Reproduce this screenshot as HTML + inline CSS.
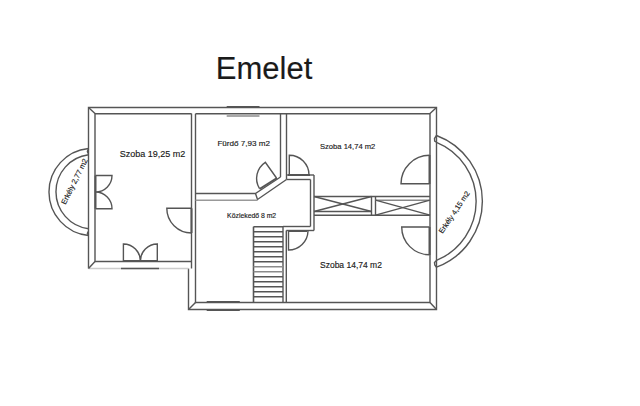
<!DOCTYPE html>
<html><head><meta charset="utf-8">
<style>
html,body{margin:0;padding:0;background:#fff;width:640px;height:406px;overflow:hidden}
svg{display:block}
text{font-family:"Liberation Sans",sans-serif;fill:#1a1a1a;stroke:#1a1a1a;stroke-width:0.15px}
</style></head>
<body>
<svg width="640" height="406" viewBox="0 0 640 406">
<rect x="0" y="0" width="640" height="406" fill="#fff"/>
<text x="215.8" y="79" font-size="31">Emelet</text>

<defs><filter id="bl" x="-5%" y="-5%" width="110%" height="110%"><feGaussianBlur stdDeviation="0.65"/></filter></defs>
<g fill="none" stroke="#555" stroke-width="1.4" filter="url(#bl)">
<!-- outer walls -->
<path d="M88.5 268.5 V107.5 H436.5 V309.5 H188.5 V268.5"/>
<line x1="88.5" y1="268.5" x2="188.5" y2="268.5" stroke="#ccc"/>
<line x1="121" y1="268.5" x2="159" y2="268.5"/>
<!-- inner of left room -->
<path d="M191.5 113.8 H95 V261.5 H191.5"/>
<line x1="191.5" y1="113.5" x2="191.5" y2="268.5"/>
<path d="M195.5 113.8 V302.5 H430 V113.8 H195.5"/>
<!-- corner diagonals -->
<line x1="88.5" y1="107.5" x2="95" y2="113.5"/>
<line x1="436.5" y1="107.5" x2="430" y2="113.5"/>
<line x1="436.5" y1="309.5" x2="430" y2="302.5"/>
<line x1="188.5" y1="309.5" x2="195.5" y2="302.5"/>
<line x1="88.5" y1="268.5" x2="95" y2="261.5"/>

<!-- bathroom / right room wall -->
<line x1="280.5" y1="113.5" x2="280.5" y2="177"/>
<line x1="286.5" y1="113.5" x2="286.5" y2="179.5"/>
<!-- diagonal wall -->
<path d="M280.5 177 L255.5 193.5 L257.5 199.5 L286.5 179.5"/>
<!-- hall top wall -->
<line x1="195.5" y1="193.5" x2="255.5" y2="193.5"/>
<line x1="195.5" y1="200.3" x2="257.5" y2="200.3" stroke="#999"/>

<!-- hall top door frame -->
<line x1="287" y1="175" x2="314" y2="175"/>
<line x1="286.5" y1="179.5" x2="310.5" y2="179.5"/>
<line x1="310.5" y1="179.5" x2="310.5" y2="226.5"/>
<line x1="314" y1="175" x2="314" y2="230.5"/>
<line x1="283" y1="226.5" x2="310.5" y2="226.5"/>
<line x1="286.3" y1="230.5" x2="314" y2="230.5"/>
<line x1="283" y1="226.5" x2="283" y2="302.5"/>
<line x1="286.3" y1="230.5" x2="286.3" y2="302.5"/>

<!-- wardrobe -->
<line x1="314" y1="196.5" x2="430" y2="196.5"/>
<line x1="314" y1="211.5" x2="371.5" y2="211.5"/>
<line x1="314" y1="215.2" x2="430" y2="215.2"/>
<line x1="314" y1="196.5" x2="371.5" y2="211.5"/>
<line x1="314" y1="211.5" x2="371.5" y2="196.5"/>
<line x1="371.5" y1="196.5" x2="371.5" y2="215.2"/>
<line x1="375.5" y1="196.5" x2="375.5" y2="215.2"/>
<line x1="375.5" y1="200.2" x2="430" y2="200.2" stroke="#888"/>
<line x1="375.5" y1="200.2" x2="430" y2="215.2"/>
<line x1="375.5" y1="215.2" x2="430" y2="200.2"/>

<!-- stairs -->
<line x1="253.5" y1="226.7" x2="253.5" y2="302" stroke-width="1.6"/>
<path d="M253.5 226.7H283 M253.5 231.7H283 M253.5 236.7H283 M253.5 241.7H283 M253.5 246.7H283 M253.5 251.7H283 M253.5 256.7H283 M253.5 261.7H283 M253.5 276.7H283 M253.5 281.7H283 M253.5 286.7H283 M253.5 291.7H283 M253.5 296.7H283"/>

<path d="M253.5 266.7H283 M253.5 271.7H283" stroke="#8a8a8a"/>
<!-- doors -->
<!-- left room left french door -->
<path d="M95.5 175.5 H112 A16.5 16.5 0 0 1 95.5 192 A16.5 16.5 0 0 1 112 208.7 H95.5"/>
<line x1="95.5" y1="175.5" x2="95.5" y2="208.7" stroke-width="2"/>
<!-- left room bottom french door -->
<path d="M123.4 261 V244 A17 17 0 0 1 140.4 261 A17 17 0 0 1 157.3 244 V261"/>
<line x1="123" y1="261" x2="157.5" y2="261" stroke-width="2"/>
<!-- left room right door -->
<path d="M191.5 208.3 H166.8 A24.7 24.7 0 0 0 191.5 233"/>
<line x1="191.5" y1="208.3" x2="191.5" y2="233" stroke-width="2"/>
<!-- bathroom door -->
<path d="M276.5 178 L265.3 162.3 A19.3 19.3 0 0 0 259.4 188.4"/>
<line x1="259.5" y1="189" x2="277" y2="178" stroke-width="2"/>
<!-- upper right room door from hall -->
<path d="M289.3 175 V155.3 A19.7 19.7 0 0 1 309 175"/>
<line x1="288" y1="175" x2="310" y2="175" stroke-width="2"/>
<!-- upper right balcony door -->
<path d="M429.5 183.8 H401 A28.5 28.5 0 0 1 429.5 155.3"/>
<line x1="429.5" y1="155" x2="429.5" y2="184" stroke-width="2"/>
<!-- lower right balcony door -->
<path d="M429.5 227 H401.7 A27.7 27.7 0 0 0 429.5 254.7"/>
<line x1="429.5" y1="227" x2="429.5" y2="255" stroke-width="2"/>
<!-- lower room door from hall -->
<path d="M288.5 231 V250 A19.5 19.5 0 0 0 308 231"/>
<line x1="288" y1="231" x2="307" y2="231" stroke-width="2"/>

<!-- windows -->
<line x1="226.7" y1="106.8" x2="259.5" y2="106.8" stroke-width="1.8"/>
<line x1="226.7" y1="116" x2="259.5" y2="116" stroke-width="1"/>
<line x1="206.7" y1="301.8" x2="239.8" y2="301.8" stroke-width="1.8"/>
<line x1="206.7" y1="310" x2="239.8" y2="310" stroke-width="1.8"/>

<!-- balconies -->
<path d="M88.5 148.5 A43.7 43.7 0 0 0 88.5 235.5"/>
<path d="M88.5 154.8 A37.25 37.25 0 0 0 88.5 228.7"/>
<path d="M88.5 148.8 L87.4 151.5 L88.2 153.5"/>
<path d="M88.2 231.5 L87.4 233.5 L88.5 235.4"/>
<path d="M436.5 135.5 A70.2 70.2 0 0 1 436.5 267.2"/>
<path d="M436.5 142.3 A63.8 63.8 0 0 1 436.5 260.4"/>
<path d="M436.5 135.5 L434.5 138.5 L434.7 141 L436.5 142.3"/>
<path d="M436.5 260.4 L434.5 262.5 L434.8 265 L436.5 267.2"/>
</g>

<text x="119.8" y="156.9" font-size="9">Szoba 19,25 m2</text>
<text x="217.4" y="146.4" font-size="8.1">Fürdő 7,93 m2</text>
<text x="320" y="149.4" font-size="7.6">Szoba 14,74 m2</text>
<text x="320" y="267.9" font-size="8.5">Szoba 14,74 m2</text>
<text x="227.1" y="217.9" font-size="6.85">Közlekedő 8 m2</text>
<text font-size="7.5" transform="translate(65.6,205) rotate(-63.5)">Erkély 2,77 m2</text>
<text font-size="7.35" transform="translate(442.6,234) rotate(-56)">Erkély 4,15 m2</text>
</svg>
</body></html>
